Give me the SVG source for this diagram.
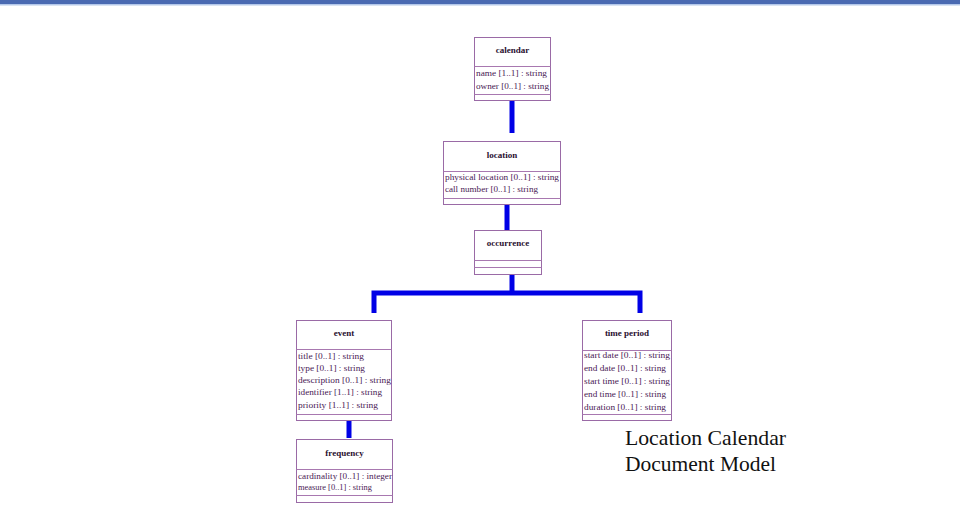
<svg xmlns="http://www.w3.org/2000/svg" width="960" height="517" viewBox="0 0 960 517">
<style>
.box{fill:#fff;stroke:#9a6aa6;stroke-width:1}
.div{stroke:#a878b0;stroke-width:1}
.t{font-family:"Liberation Serif",serif;font-size:9px;font-weight:bold;fill:#2a1030;text-anchor:middle}
.a{font-family:"Liberation Serif",serif;font-size:8.5px;fill:#4a1a55}
.c{stroke:#0000e6;stroke-width:5;fill:none}
.cap{font-family:"Liberation Serif","Times New Roman",serif;font-size:21px;fill:#111}
</style>
<rect x="0" y="0" width="960" height="4" fill="#4a6ab2"/>
<rect x="0" y="4" width="960" height="1.5" fill="#b4c8ea"/>
<g id="connectors">
<line class="c" x1="512" y1="101" x2="512" y2="133"/>
<line class="c" x1="507" y1="204" x2="507" y2="230"/>
<line class="c" x1="512" y1="274" x2="512" y2="293"/>
<polyline class="c" points="374,313 374,293 640,293 640,313"/>
<line class="c" x1="349" y1="420" x2="349" y2="438"/>
</g>
<g id="calendar">
<rect class="box" x="474.5" y="37.5" width="76" height="63"/>
<line class="div" x1="474.5" y1="66.5" x2="550.5" y2="66.5"/>
<line class="div" x1="474.5" y1="94.5" x2="550.5" y2="94.5"/>
<text class="t" x="512.5" y="53">calendar</text>
<text class="a" x="476" y="76" textLength="71" lengthAdjust="spacingAndGlyphs">name [1..1] : string</text>
<text class="a" x="476" y="89" textLength="73" lengthAdjust="spacingAndGlyphs">owner [0..1] : string</text>
</g>
<g id="location">
<rect class="box" x="443.5" y="141.5" width="117" height="63"/>
<line class="div" x1="443.5" y1="171.5" x2="560.5" y2="171.5"/>
<line class="div" x1="443.5" y1="198.5" x2="560.5" y2="198.5"/>
<text class="t" x="502" y="158">location</text>
<text class="a" x="445" y="180" textLength="114" lengthAdjust="spacingAndGlyphs">physical location [0..1] : string</text>
<text class="a" x="445" y="192" textLength="93" lengthAdjust="spacingAndGlyphs">call number [0..1] : string</text>
</g>
<g id="occurrence">
<rect class="box" x="474.5" y="230.5" width="67" height="44"/>
<line class="div" x1="474.5" y1="260.5" x2="541.5" y2="260.5"/>
<line class="div" x1="474.5" y1="267.5" x2="541.5" y2="267.5"/>
<text class="t" x="508" y="246">occurrence</text>
</g>
<g id="event">
<rect class="box" x="296.5" y="320.5" width="95" height="100"/>
<line class="div" x1="296.5" y1="349.5" x2="391.5" y2="349.5"/>
<line class="div" x1="296.5" y1="414.5" x2="391.5" y2="414.5"/>
<text class="t" x="344" y="336">event</text>
<text class="a" x="298" y="359" textLength="66" lengthAdjust="spacingAndGlyphs">title [0..1] : string</text>
<text class="a" x="298" y="371" textLength="67" lengthAdjust="spacingAndGlyphs">type [0..1] : string</text>
<text class="a" x="298" y="383" textLength="93" lengthAdjust="spacingAndGlyphs">description [0..1] : string</text>
<text class="a" x="298" y="395" textLength="84" lengthAdjust="spacingAndGlyphs">identifier [1..1] : string</text>
<text class="a" x="298" y="408" textLength="80" lengthAdjust="spacingAndGlyphs">priority [1..1] : string</text>
</g>
<g id="frequency">
<rect class="box" x="296.5" y="439.5" width="96" height="63"/>
<line class="div" x1="296.5" y1="469.5" x2="392.5" y2="469.5"/>
<line class="div" x1="296.5" y1="495.5" x2="392.5" y2="495.5"/>
<text class="t" x="344.5" y="456">frequency</text>
<text class="a" x="298" y="479" textLength="94" lengthAdjust="spacingAndGlyphs">cardinality [0..1] : integer</text>
<text class="a" x="298" y="490" textLength="74" lengthAdjust="spacingAndGlyphs">measure [0..1] : string</text>
</g>
<g id="time-period">
<rect class="box" x="582.5" y="320.5" width="89" height="100"/>
<line class="div" x1="582.5" y1="350.5" x2="671.5" y2="350.5"/>
<line class="div" x1="582.5" y1="414.5" x2="671.5" y2="414.5"/>
<text class="t" x="627" y="336">time period</text>
<text class="a" x="584" y="358" textLength="86" lengthAdjust="spacingAndGlyphs">start date [0..1] : string</text>
<text class="a" x="584" y="371" textLength="82" lengthAdjust="spacingAndGlyphs">end date [0..1] : string</text>
<text class="a" x="584" y="384" textLength="86" lengthAdjust="spacingAndGlyphs">start time [0..1] : string</text>
<text class="a" x="584" y="397" textLength="82" lengthAdjust="spacingAndGlyphs">end time [0..1] : string</text>
<text class="a" x="584" y="410" textLength="82" lengthAdjust="spacingAndGlyphs">duration [0..1] : string</text>
</g>
<g id="caption">
<text class="cap" x="625" y="445" textLength="161" lengthAdjust="spacingAndGlyphs">Location Calendar</text>
<text class="cap" x="625" y="471" textLength="151" lengthAdjust="spacingAndGlyphs">Document Model</text>
</g>
</svg>
